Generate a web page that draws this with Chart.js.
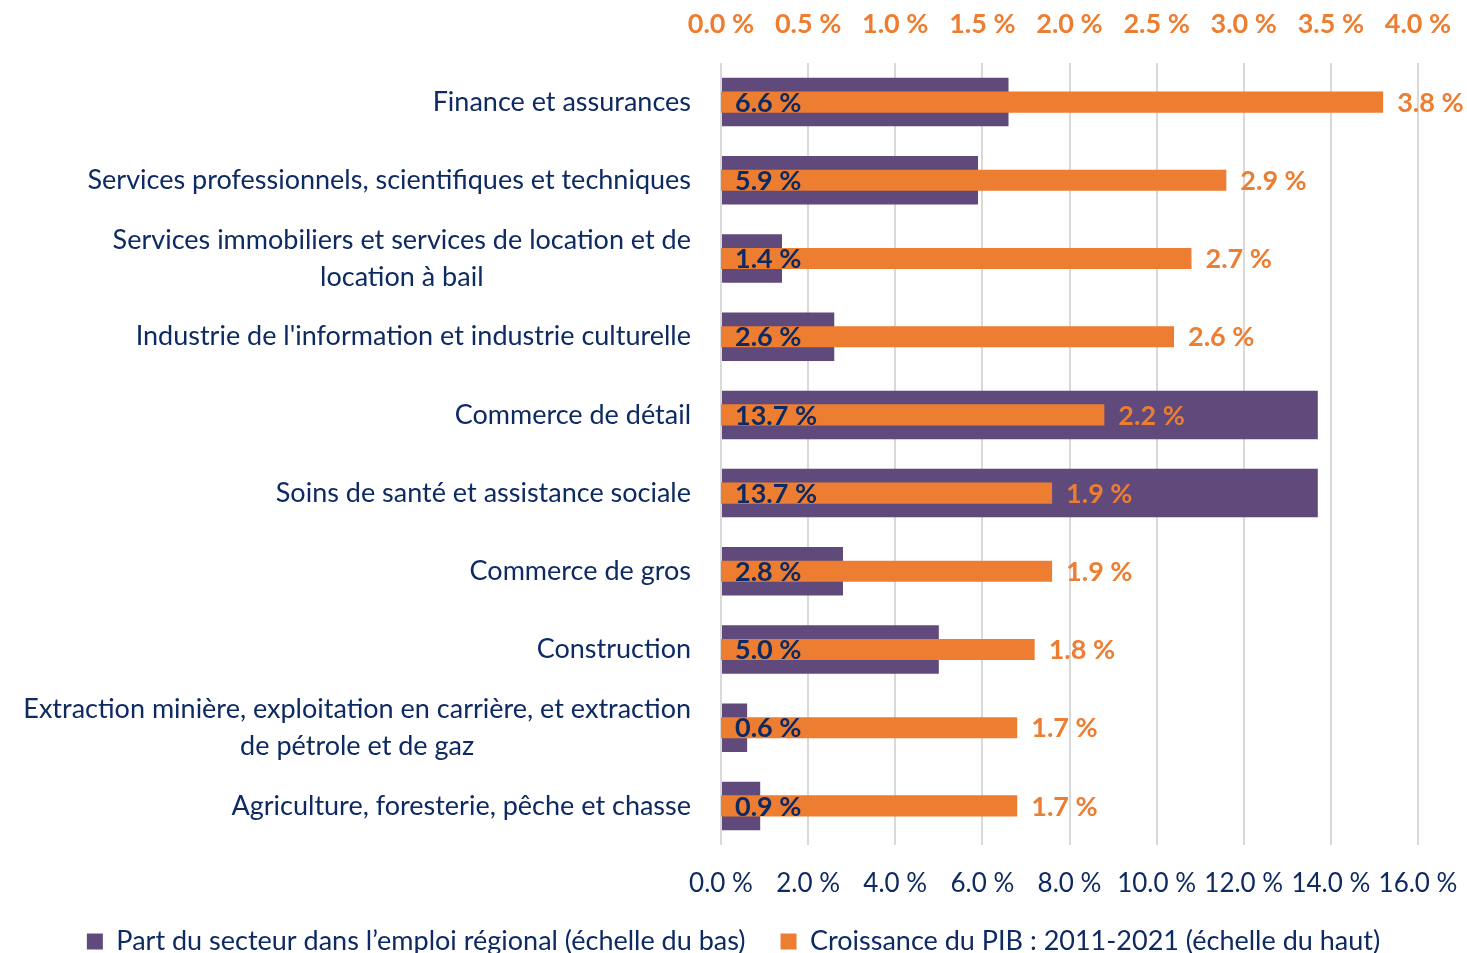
<!DOCTYPE html>
<html><head><meta charset="utf-8">
<script src="https://cdn.jsdelivr.net/npm/chart.js@4.4.0/dist/chart.umd.min.js"></script>
<style>html,body{margin:0;padding:0;background:#fff}#wrap{width:1467px;height:953px;position:relative}</style>
</head><body><div id="wrap"><canvas id="c" width="1467" height="953"></canvas></div>
<script>
const categories = [
  ["Finance et assurances"],
  ["Services professionnels, scientifiques et techniques"],
  ["Services immobiliers et services de location et de", "location à bail"],
  ["Industrie de l'information et industrie culturelle"],
  ["Commerce de détail"],
  ["Soins de santé et assistance sociale"],
  ["Commerce de gros"],
  ["Construction"],
  ["Extraction minière, exploitation en carrière, et extraction", "de pétrole et de gaz"],
  ["Agriculture, foresterie, pêche et chasse"]
];
const employmentShare = [6.6, 5.9, 1.4, 2.6, 13.7, 13.7, 2.8, 5.0, 0.6, 0.9];
const gdpGrowth = [3.8, 2.9, 2.7, 2.6, 2.2, 1.9, 1.9, 1.8, 1.7, 1.7];
const seriesNames = [
  "Part du secteur dans l’emploi régional (échelle du bas)",
  "Croissance du PIB : 2011-2021 (échelle du haut)"
];
const bottomAxis = { min: 0, max: 16, step: 2 };
const topAxis = { min: 0, max: 4, step: 0.5 };

const PURPLE = '#604A7B', ORANGE = '#ED7D31', NAVY = '#0E2A63';
const FONT = 'Lato';
const fmt = v => v.toFixed(1) + ' %';

const labelPlugin = {
  id: 'labels',
  afterDraw(chart) {
    const ctx = chart.ctx;
    const yScale = chart.scales.y;
    ctx.save();
    ctx.font = '27px ' + FONT;
    ctx.fillStyle = NAVY;
    ctx.textBaseline = 'middle';
    ctx.textAlign = 'center';
    const right = 691, lh = 37;
    categories.forEach((lines, i) => {
      const yc = yScale.getPixelForValue(i);
      const w = Math.max(...lines.map(l => ctx.measureText(l).width));
      const cx = right - w / 2;
      const y0 = yc - (lines.length - 1) * lh / 2;
      lines.forEach((l, k) => ctx.fillText(l, cx, y0 + k * lh));
    });
    ctx.font = 'bold 27px ' + FONT;
    ctx.textAlign = 'left';
    const m0 = chart.getDatasetMeta(0), m1 = chart.getDatasetMeta(1);
    m0.data.forEach((bar, i) => {
      ctx.fillStyle = NAVY;
      ctx.fillText(fmt(employmentShare[i]), bar.base + 13, bar.y + 1);
    });
    m1.data.forEach((bar, i) => {
      ctx.fillStyle = ORANGE;
      ctx.fillText(fmt(gdpGrowth[i]), bar.x + 14, bar.y + 1);
    });
    ctx.restore();
  }
};

new Chart(document.getElementById('c'), {
  type: 'bar',
  data: {
    labels: categories.map(c => c.join(' ')),
    datasets: [
      { label: seriesNames[0], data: employmentShare, backgroundColor: PURPLE, xAxisID: 'x', yAxisID: 'y',
        barPercentage: 0.62, categoryPercentage: 1, order: 1, grouped: false },
      { label: seriesNames[1], data: gdpGrowth, backgroundColor: ORANGE, xAxisID: 'x2', yAxisID: 'y',
        barPercentage: 0.27, categoryPercentage: 1, order: 0, grouped: false }
    ]
  },
  options: {
    indexAxis: 'y',
    responsive: false,
    animation: false,
    devicePixelRatio: 1,
    layout: { padding: { left: 0, right: 0, top: 0, bottom: -12 } },
    plugins: {
      legend: {
        position: 'bottom',
        reverse: true,
        labels: {
          font: { family: FONT, size: 27, lineHeight: 1 }, color: NAVY, boxWidth: 16, boxHeight: 16, padding: 8,
          generateLabels(chart) {
            const items = Chart.defaults.plugins.legend.labels.generateLabels(chart);
            items.forEach(it => { if (it.datasetIndex === 0) it.text = it.text + '\u2002\u2002'; });
            return items;
          }
        }
      },
      tooltip: { enabled: false }
    },
    scales: {
      y: {
        type: 'category', position: 'left',
        ticks: { display: false }, grid: { display: false }, border: { display: false },
        afterFit(s) { s.width = 721; }
      },
      x: {
        type: 'linear', position: 'bottom', min: bottomAxis.min, max: bottomAxis.max,
        ticks: { stepSize: bottomAxis.step, callback: v => fmt(v), font: { family: FONT, size: 26 }, color: NAVY, padding: 23, maxRotation: 0, autoSkip: false },
        grid: { color: '#d9d9d9', lineWidth: 2, drawTicks: false },
        border: { display: false },
        afterFit(s) { s.height = 75; s.paddingRight = 49; s.paddingLeft = 0; }
      },
      x2: {
        type: 'linear', position: 'top', min: topAxis.min, max: topAxis.max,
        ticks: { stepSize: topAxis.step, callback: v => fmt(v), font: { family: FONT, size: 27, weight: 'bold' }, color: ORANGE, padding: 23, maxRotation: 0, autoSkip: false },
        grid: { display: false, drawTicks: false },
        border: { display: false },
        afterFit(s) { s.height = 63; s.paddingRight = 49; s.paddingLeft = 0; }
      }
    }
  },
  plugins: [labelPlugin]
});
</script></body></html>
